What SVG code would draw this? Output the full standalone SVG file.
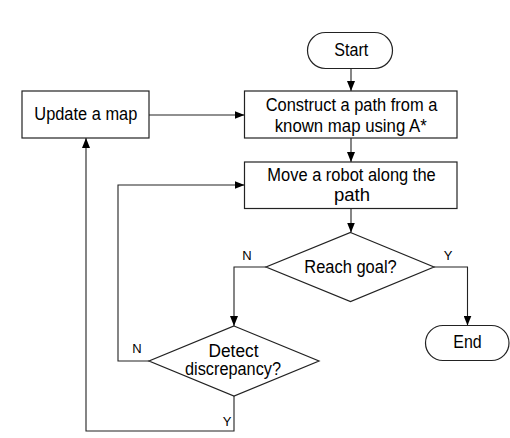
<svg xmlns="http://www.w3.org/2000/svg" width="510" height="438" viewBox="0 0 510 438">
<defs>
<marker id="arr" viewBox="0 0 10 8" refX="10" refY="4" markerWidth="10" markerHeight="8" markerUnits="userSpaceOnUse" orient="auto">
<path d="M0,0 L10,4 L0,8 Z" fill="#000"/>
</marker>
<style>
.shape{fill:#fff;stroke:#222;stroke-width:1.2}
.t{font-family:"Liberation Sans",Arial,sans-serif;font-size:17.5px;fill:#000;text-anchor:middle}
.lbl{font-family:"Liberation Sans",Arial,sans-serif;font-size:13px;fill:#000;text-anchor:middle}
.c{fill:none;stroke:#222;stroke-width:1.1}
</style>
</defs>
<rect width="510" height="438" fill="#fff"/>
<g id="connectors">
<path class="c" d="M351,68.5 V91" marker-end="url(#arr)"/>
<path class="c" d="M351,138 V162" marker-end="url(#arr)"/>
<path class="c" d="M351,208.5 V232.5" marker-end="url(#arr)"/>
<path class="c" d="M266,267 H234 V326" marker-end="url(#arr)"/>
<path class="c" d="M434,267 H467.5 V325.5" marker-end="url(#arr)"/>
<path class="c" d="M149,361 H118 V185 H244.5" marker-end="url(#arr)"/>
<path class="c" d="M234,396 V431 H86 V138" marker-end="url(#arr)"/>
<path class="c" d="M149,115 H244.5" marker-end="url(#arr)"/>
<text class="lbl" x="247" y="260">N</text>
<text class="lbl" x="448" y="260">Y</text>
<text class="lbl" x="137" y="353">N</text>
<text class="lbl" x="227" y="425.5">Y</text>
</g>
<g id="start">
<rect class="shape" x="307.5" y="32.5" width="85" height="36" rx="18" ry="18"/>
<text class="t" x="351.3" y="56.3" textLength="34" lengthAdjust="spacingAndGlyphs">Start</text>
</g>
<g id="update">
<rect class="shape" x="22" y="91" width="127" height="47"/>
<text class="t" x="85.8" y="119.5" textLength="103" lengthAdjust="spacingAndGlyphs">Update a map</text>
</g>
<g id="construct">
<rect class="shape" x="244.5" y="91" width="212.5" height="47"/>
<text class="t" x="351.5" y="110.5" textLength="171.6" lengthAdjust="spacingAndGlyphs">Construct a path from a</text>
<text class="t" x="350.7" y="131.5" textLength="152" lengthAdjust="spacingAndGlyphs">known map using A*</text>
</g>
<g id="move">
<rect class="shape" x="244.5" y="162" width="212.5" height="46.5"/>
<text class="t" x="351.5" y="180.5" textLength="168.4" lengthAdjust="spacingAndGlyphs">Move a robot along the</text>
<text class="t" x="352" y="200.5" textLength="36" lengthAdjust="spacingAndGlyphs">path</text>
</g>
<g id="reach">
<polygon class="shape" points="350.5,232.5 434,267 350.5,301.5 266,267"/>
<text class="t" x="350.5" y="273.3" textLength="92.4" lengthAdjust="spacingAndGlyphs">Reach goal?</text>
</g>
<g id="detect">
<polygon class="shape" points="234,326 319,361 234,396 149,361"/>
<text class="t" x="233.5" y="356.5" textLength="50" lengthAdjust="spacingAndGlyphs">Detect</text>
<text class="t" x="233" y="375" textLength="96" lengthAdjust="spacingAndGlyphs">discrepancy?</text>
</g>
<g id="end">
<rect class="shape" x="425.5" y="325.5" width="83.5" height="35" rx="17.5" ry="17.5"/>
<text class="t" x="467.5" y="348.3" textLength="28.4" lengthAdjust="spacingAndGlyphs">End</text>
</g>
</svg>
